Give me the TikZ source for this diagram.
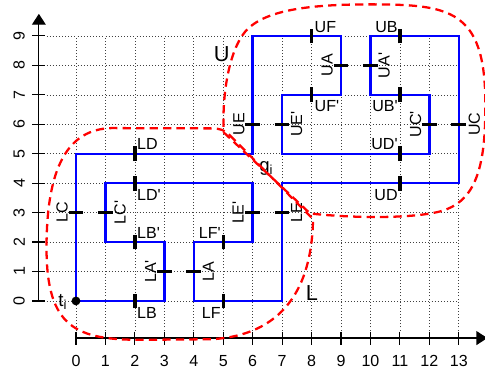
\documentclass[tikz,border=0pt]{standalone}
\usepackage{fontspec}
\setmainfont{Liberation Sans}
\usetikzlibrary{arrows.meta}
\definecolor{pblue}{RGB}{0,0,255}
\definecolor{pred}{RGB}{255,0,0}
\newcommand{\primemk}{\textquotesingle}
\tikzset{
  gridline/.style={black!75, line width=0.6pt, dash pattern=on 0.8pt off 2.2pt},
  axisline/.style={black, line width=1.1pt},
  shapeline/.style={pblue, line width=2.3pt, line join=miter},
  cutmark/.style={black, line width=3.2pt},
  region/.style={pred, line width=2.2pt, dash pattern=on 8pt off 5pt},
  lbl/.style={font=\fontsize{15.5}{18}\selectfont, inner sep=0pt},
  biglbl/.style={font=\fontsize{21}{24}\selectfont, inner sep=0pt},
  midlbl/.style={font=\fontsize{18}{21}\selectfont, inner sep=0pt},
  rlbl/.style={lbl, rotate=90, anchor=south},
  llbl/.style={lbl, rotate=90, anchor=north},
}
\begin{document}
\begin{tikzpicture}
\useasboundingbox (-2.58,-2.445) rectangle (13.89,10.22);
% grid
\foreach \i in {0,...,13} \draw[gridline] (\i,-1) -- (\i,9);
\foreach \j in {0,...,9} \draw[gridline] (-1,\j) -- (13,\j);
% axes
\coordinate (xa0) at (0,-1.26);
\coordinate (xa1) at (13.97,-1.26);
\coordinate (ya0) at (-1.26,0);
\coordinate (ya1) at (-1.26,9.75);
\draw[axisline, -{Triangle[length=3.7mm,width=4.7mm]}] (xa0) -- (xa1);
\draw[axisline, -{Triangle[length=3.7mm,width=4.7mm]}] (ya0) -- (ya1);
\foreach \i in {0,...,13} {
  \draw[axisline] (\i,-1.04) -- (\i,-1.48);
  \node[lbl, anchor=base] (xt\i) at (\i,-2.23) {\i};
}
\foreach \j in {0,...,9} {
  \draw[axisline] (-1.48,\j) -- (-1.04,\j);
  \node[lbl, rotate=90, anchor=south] (yt\j) at (-1.73,\j) {\j};
}
% blue outline
\draw[shapeline] (0,0) -- (3,0) -- (3,2) -- (1,2) -- (1,4) -- (6,4) -- (6,2) -- (4,2)
  -- (4,0) -- (7,0) -- (7,4) -- (13,4) -- (13,9) -- (10,9) -- (10,7) -- (12,7)
  -- (12,5) -- (7,5) -- (7,7) -- (9,7) -- (9,9) -- (6,9) -- (6,5) -- (0,5) -- cycle;
% cut marks (horizontal)
\foreach \x/\y in {0/3,1/3,3/1,4/1,6/3,7/3,6/6,7/6,9/8,10/8,12/6,13/6}
  \draw[cutmark] (\x-0.25,\y) -- (\x+0.25,\y);
% cut marks (vertical)
\foreach \x/\y in {2/5,2/4,2/2,2/0,5/2,5/0,8/9,8/7,11/9,11/7,11/5,11/4}
  \draw[cutmark] (\x,\y-0.25) -- (\x,\y+0.25);
% horizontal labels
\node[lbl, anchor=base west] (lLD) at (2.07,5.13) {LD};
\node[lbl, anchor=base west] (lLDp) at (2.07,3.42) {LD\primemk};
\node[lbl, anchor=base west] (lLBp) at (2.07,2.13) {LB\primemk};
\node[lbl, anchor=base west] (lLB) at (2.07,-0.6) {LB};
\node[lbl, anchor=base east] (lLFp) at (4.92,2.13) {LF\primemk};
\node[lbl, anchor=base east] (lLF) at (4.92,-0.6) {LF};
\node[lbl, anchor=base west] (lUF) at (8.1,9.13) {UF};
\node[lbl, anchor=base west] (lUFp) at (8.1,6.42) {UF\primemk};
\node[lbl, anchor=base east] (lUB) at (10.93,9.13) {UB};
\node[lbl, anchor=base east] (lUBp) at (10.93,6.42) {UB\primemk};
\node[lbl, anchor=base east] (lUDp) at (10.93,5.13) {UD\primemk};
\node[lbl, anchor=base east] (lUD) at (10.93,3.42) {UD};
% rotated labels, left of mark
\node[rlbl] (lLC) at (-0.27,3) {LC};
\node[rlbl] (lLAp) at (2.73,1) {LA\primemk};
\node[rlbl] (lLEp) at (5.7,3) {LE\primemk};
\node[rlbl] (lUE) at (5.73,6) {UE};
\node[rlbl] (lUA) at (8.73,8) {UA};
\node[rlbl] (lUCp) at (11.73,6) {UC\primemk};
% rotated labels, right of mark
\node[llbl] (lLCp) at (1.3,3) {LC\primemk};
\node[llbl] (lLA) at (4.3,1) {LA};
\node[llbl] (lLE) at (7.3,3) {LE};
\node[llbl] (lUEp) at (7.3,6) {UE\primemk};
\node[llbl] (lUAp) at (10.27,8) {UA\primemk};
\node[llbl] (lUC) at (13.33,6) {UC};
% other labels
\node[biglbl, anchor=base] (lU) at (4.95,8.12) {U};
\node[biglbl, anchor=base] (lL) at (8.01,0.03) {L};
\node[midlbl, anchor=base west] (lg) at (6.22,4.41) {g\textsubscript{i}};
\node[midlbl, anchor=base east] (lt) at (-0.3,-0.19) {t\textsubscript{i}};
\fill[black] (0,0) circle (0.15);
% red regions
\draw[region] (5.02,5.72) -- (7.95,2.97) .. controls (9.5,2.8) and (11.5,2.8) .. (12.4,3.05)
  .. controls (13.45,3.35) and (13.9,4.3) .. (13.9,6.5)
  .. controls (13.95,9.8) and (12.8,10.05) .. (10.3,10.07)
  .. controls (8,10.09) and (6.4,9.9) .. (5.75,9.15)
  .. controls (5.2,8.5) and (4.95,7) .. (5.02,5.72) -- cycle;
\draw[region] (5.22,5.63) -- (8.05,2.78) .. controls (8.02,0.8) and (7.3,-1.15) .. (4.6,-1.3)
  -- (2.2,-1.32) .. controls (0.0,-1.32) and (-1.0,-0.9) .. (-1.0,1.8)
  .. controls (-1.0,4.5) and (-0.3,5.83) .. (1.2,5.87)
  -- (4.6,5.86) .. controls (4.9,5.86) and (5.05,5.8) .. (5.22,5.63) -- cycle;
\end{tikzpicture}
\end{document}
